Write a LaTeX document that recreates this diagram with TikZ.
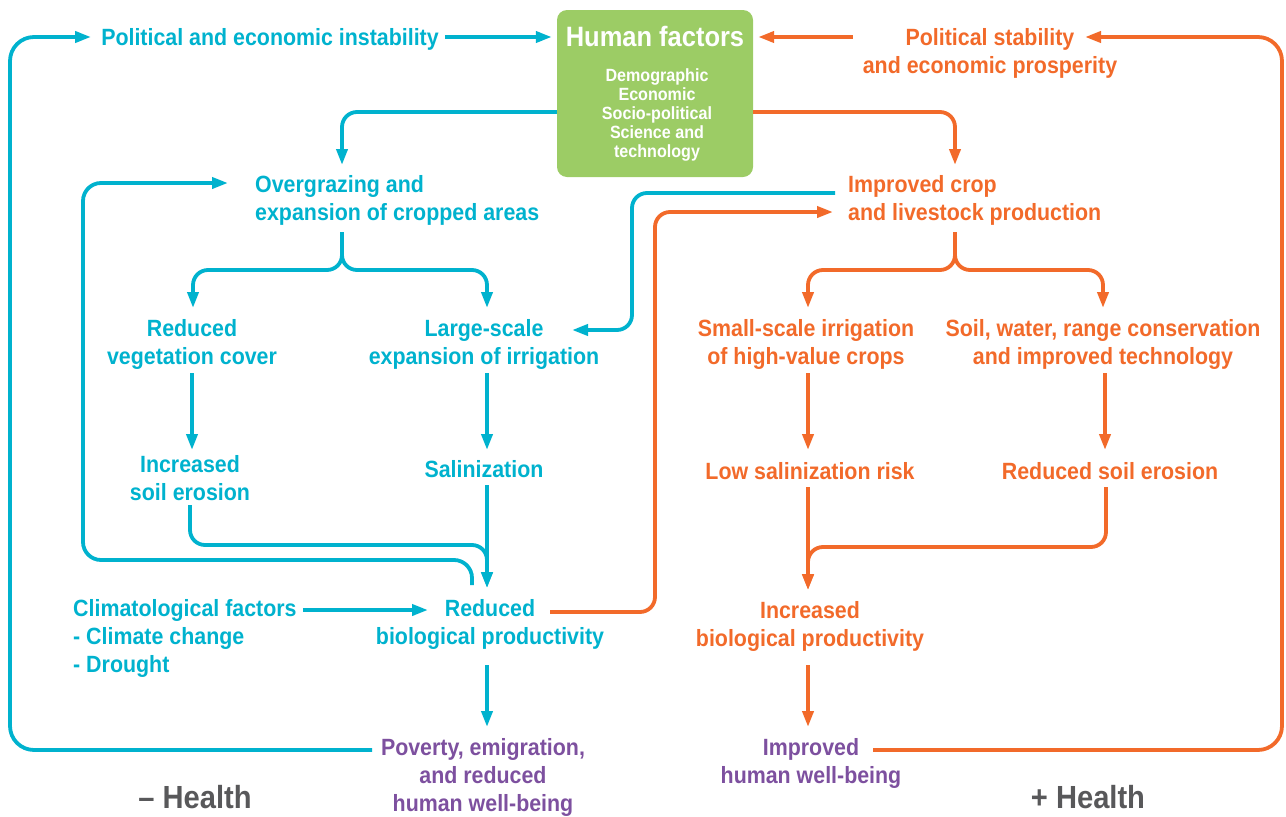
\documentclass[tikz,border=0pt]{standalone}
\usepackage{fontspec}
\setmainfont{Liberation Sans}[FakeStretch=0.91]
\usetikzlibrary{arrows.meta}
\definecolor{cyc}{HTML}{00B2CE}
\definecolor{orc}{HTML}{F26A2A}
\definecolor{puc}{HTML}{7D509F}
\definecolor{grc}{HTML}{9CCC65}
\definecolor{gyc}{HTML}{58585A}
\tikzset{
  txt/.style={inner sep=0pt, yshift=-2pt, font=\bfseries\fontsize{23.5}{28}\selectfont},
  cyt/.style={txt, text=cyc},
  ort/.style={txt, text=orc},
  put/.style={txt, text=puc},
  hlt/.style={inner sep=0pt, text=gyc, font=\bfseries\fontsize{32}{36}\selectfont},
  ln/.style={line width=3.8pt, rounded corners=15pt},
  cyl/.style={ln, draw=cyc},
  orl/.style={ln, draw=orc},
  tip/.style={-{Triangle[length=16pt,width=11pt]}},
  cya/.style={cyl, tip},
  ora/.style={orl, tip},
}
\begin{document}
\begin{tikzpicture}[x=1pt,y=-1pt]
\useasboundingbox (0,0) rectangle (1286,817);
% green box
\node[fill=grc, rounded corners=10pt, minimum width=196pt, minimum height=167pt, inner sep=0pt] (hf) at (655,93.5) {};
\node[inner sep=0pt, text=white, font=\bfseries\fontsize{28}{32}\selectfont] (hft) at (655,36) {Human factors};
\node[inner sep=0pt, text=white, align=center, font=\bfseries\fontsize{17.7}{19}\selectfont] (hfs) at (657,115) {Demographic\\Economic\\Socio-political\\Science and\\technology};
% texts
\node[cyt] (pei) at (270,37) {Political and economic instability};
\node[ort, align=center] (psep) at (990,51.5) {Political stability\\and economic prosperity};
\node[cyt, align=left, anchor=west] (over) at (255,198) {Overgrazing and\\expansion of cropped areas};
\node[ort, align=left, anchor=west] (imp) at (848,198) {Improved crop\\and livestock production};
\node[cyt, align=center] (rvc) at (192,342.5) {Reduced\\vegetation cover};
\node[cyt, align=center] (lsi) at (484,342.5) {Large-scale\\expansion of irrigation};
\node[ort, align=center] (ssi) at (806,342.5) {Small-scale irrigation\\of high-value crops};
\node[ort, align=center] (swr) at (1103,342.5) {Soil, water, range conservation\\and improved technology};
\node[cyt, align=center] (ise) at (190,476) {Increased\\soil erosion};
\node[cyt] (sal) at (484,467) {Salinization};
\node[ort] (lsr) at (810,469) {Low salinization risk};
\node[ort] (rse) at (1110,469) {Reduced soil erosion};
\node[cyt, align=left, anchor=west] (clim) at (73,636.5) {Climatological factors\\- Climate change\\- Drought};
\node[cyt, align=center] (rbp) at (490,622.5) {Reduced\\biological productivity};
\node[ort, align=center] (ibp) at (810,624.5) {Increased\\biological productivity};
\node[put, align=center] (pov) at (483,775) {Poverty, emigration,\\and reduced\\human well-being};
\node[put, align=center] (ihw) at (811,761) {Improved\\human well-being};
\node[hlt] (neg) at (195,797) {– Health};
\node[hlt] (pos) at (1088,797) {+ Health};
% named free ends
\coordinate (povL) at (372,750);
\coordinate (ihwR) at (873,750);
% cyan connectors
\draw[cya] ([xshift=6pt]pei.east |- 0,37) -- ([xshift=-5pt]hf.west |- 0,37);
\draw[cya, rounded corners=24pt] (povL) -- (10,750) -- (10,37) -- ([xshift=-10pt]pei.west |- 0,37);
\draw[cya] (hf.west |- 0,112) -- (342,112) -- (342,165);
\draw[cya] (342,232) |- (193,270) -- (193,308);
\draw[cya] (342,232) |- (487,270) -- (487,308);
\draw[cya] (192,373) -- (192,450);
\draw[cya] (487,373) -- (487,450);
\draw[cya] (190,505) |- (487,545) -- (487,588);
\draw[cya] (487,485) -- (487,588);
\draw[cya, rounded corners=18pt] (472,585) -- (472,560) -- (83,560) -- (83,183) -- (228,183);
\draw[cya] ([xshift=6pt]clim.east |- 0,610) -- (428,610);
\draw[cya] (487,665) -- (487,727);
\draw[cya] (835,193) -- (632,193) -- (632,330) -- (572,330);
% orange connectors
\draw[ora] ([xshift=-10pt]psep.west |- 0,37) -- ([xshift=5pt]hf.east |- 0,37);
\draw[ora, rounded corners=24pt] (ihwR) -- (1282,750) -- (1282,37) -- (1085,37);
\draw[ora] (hf.east |- 0,112) -- (955,112) -- (955,165);
\draw[ora] (955,232) |- (808,270) -- (808,308);
\draw[ora] (955,232) |- (1103,270) -- (1103,308);
\draw[ora] (808,373) -- (808,450);
\draw[ora] (1105,373) -- (1105,450);
\draw[ora] (808,487) -- (808,590);
\draw[ora] (1106,487) |- (808,547) -- (808,590);
\draw[ora] (550,612) -- (655,612) -- (655,212) -- (833,212);
\draw[ora] (808,665) -- (808,727);
\end{tikzpicture}
\end{document}
